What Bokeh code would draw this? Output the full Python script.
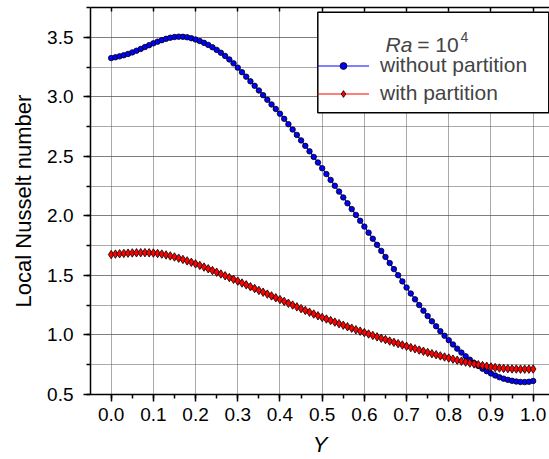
from bokeh.plotting import figure
from bokeh.models import (Range1d, LinearAxis, SingleIntervalTicker, FixedTicker,
                          PrintfTickFormatter, Legend, LegendItem, Label, BoxAnnotation)
from bokeh.embed import file_html
from bokeh.resources import INLINE

# ---------------- data ----------------
Y_POS = [round(i * 0.01, 2) for i in range(101)]

NU_WITHOUT = [
    3.325, 3.332, 3.340, 3.349, 3.360, 3.373, 3.387, 3.402, 3.418, 3.434,
    3.449, 3.463, 3.476, 3.487, 3.496, 3.502, 3.505, 3.504, 3.500, 3.492,
    3.481, 3.468, 3.453, 3.436, 3.416, 3.394, 3.370, 3.343, 3.314, 3.281,
    3.245, 3.207, 3.169, 3.130, 3.092, 3.053, 3.014, 2.975, 2.936, 2.898,
    2.858, 2.815, 2.770, 2.725, 2.680, 2.634, 2.588, 2.542, 2.495, 2.448,
    2.400, 2.351, 2.302, 2.253, 2.204, 2.155, 2.106, 2.057, 2.008, 1.959,
    1.910, 1.859, 1.808, 1.757, 1.706, 1.655, 1.604, 1.553, 1.502, 1.450,
    1.398, 1.348, 1.299, 1.251, 1.204, 1.159, 1.115, 1.073, 1.032, 0.993,
    0.956, 0.920, 0.885, 0.852, 0.821, 0.792, 0.765, 0.740, 0.717, 0.696,
    0.677, 0.660, 0.645, 0.633, 0.623, 0.615, 0.609, 0.605, 0.604, 0.607,
    0.614,
]

NU_WITH = [
    1.675, 1.679, 1.682, 1.685, 1.687, 1.689, 1.690, 1.691, 1.691, 1.690,
    1.688, 1.684, 1.679, 1.672, 1.664, 1.655, 1.645, 1.634, 1.622, 1.610,
    1.597, 1.584, 1.570, 1.556, 1.541, 1.527, 1.512, 1.497, 1.482, 1.467,
    1.452, 1.436, 1.421, 1.405, 1.390, 1.374, 1.359, 1.343, 1.328, 1.312,
    1.297, 1.282, 1.266, 1.251, 1.236, 1.221, 1.206, 1.191, 1.176, 1.161,
    1.147, 1.134, 1.121, 1.108, 1.095, 1.082, 1.069, 1.057, 1.044, 1.032,
    1.020, 1.008, 0.996, 0.984, 0.972, 0.961, 0.949, 0.938, 0.927, 0.916,
    0.905, 0.894, 0.884, 0.873, 0.863, 0.853, 0.843, 0.834, 0.824, 0.815,
    0.806, 0.797, 0.788, 0.780, 0.772, 0.764, 0.757, 0.750, 0.743, 0.737,
    0.731, 0.726, 0.722, 0.719, 0.717, 0.715, 0.714, 0.713, 0.713, 0.713,
    0.714,
]

SERIES_NAMES = ["without partition", "with partition"]
TITLE_PARTS = ["Ra", "= 10", "4"]
X_LABEL = "Y"
Y_LABEL = "Local Nusselt number"
X_TICK_STEP = 0.1
Y_TICK_STEP = 0.5
TOP_TICKS = [round(i * 0.1, 1) for i in range(11)]

FONT = "Liberation Sans"

# ---------------- figure ----------------
p = figure(width=549, height=459, output_backend="svg", toolbar_location=None,
           x_range=Range1d(-0.049, 1.0387), y_range=Range1d(0.5, 3.75),
           min_border_left=90, min_border_right=0, min_border_top=7,
           min_border_bottom=64)
p.outline_line_color = None
p.background_fill_color = "white"
p.border_fill_color = "white"

xt = SingleIntervalTicker(interval=X_TICK_STEP, num_minor_ticks=2)
yt = SingleIntervalTicker(interval=Y_TICK_STEP, num_minor_ticks=2)
p.xaxis.ticker = xt
p.yaxis.ticker = yt
p.xgrid.ticker = xt
p.ygrid.ticker = yt

for g in (p.xgrid[0], p.ygrid[0]):
    g.grid_line_color = "#555555"
    g.grid_line_dash = "1 1"
    g.grid_line_width = 1
p.ygrid[0].minor_grid_line_color = "#555555"
p.ygrid[0].minor_grid_line_dash = "1 1"
p.ygrid[0].minor_grid_line_width = 1

for ax in (p.xaxis[0], p.yaxis[0]):
    ax.axis_line_width = 1.5
    ax.major_tick_line_width = 1.5
    ax.minor_tick_line_width = 1.5
    ax.major_tick_out = 7
    ax.major_tick_in = 0
    ax.minor_tick_out = 4
    ax.minor_tick_in = 0
    ax.major_label_text_font = FONT
    ax.major_label_text_font_size = "19px"
    ax.major_label_text_color = "black"
    ax.axis_label_text_font = FONT
    ax.axis_label_text_font_size = "22px"
    ax.axis_label_text_color = "black"
    ax.formatter = PrintfTickFormatter(format="%.1f")

xa = p.xaxis[0]
xa.axis_label = X_LABEL
xa.axis_label_text_font_style = "italic"
xa.major_label_standoff = 6
xa.axis_label_standoff = 8

ya = p.yaxis[0]
ya.axis_label = Y_LABEL
ya.axis_label_text_font_style = "normal"
ya.major_label_standoff = 10
ya.axis_label_standoff = 8

top = LinearAxis(ticker=FixedTicker(ticks=[], minor_ticks=TOP_TICKS),
                 major_tick_in=0, major_tick_out=0,
                 minor_tick_in=4, minor_tick_out=0,
                 axis_line_width=1.5, minor_tick_line_width=1.5)
p.add_layout(top, "above")

# ---------------- series ----------------
l1 = p.line(Y_POS, NU_WITHOUT, line_color="#0000ff", line_width=1.2)
s1 = p.scatter(Y_POS, NU_WITHOUT, marker="circle", size=5.5,
               fill_color="#0000ff", line_color="black", line_width=0.8)
l2 = p.line(Y_POS, NU_WITH, line_color="#ff0000", line_width=1.2)
s2 = p.scatter(Y_POS, NU_WITH, marker="diamond", size=8.5,
               fill_color="#ff0000", line_color="black", line_width=0.8)

# legend frame (white box, black border)
p.add_layout(BoxAnnotation(left=227.3, right=458.3, bottom=281.7, top=382.3,
                           left_units="screen", right_units="screen",
                           bottom_units="screen", top_units="screen",
                           fill_color="white", fill_alpha=1.0,
                           line_color="black", line_width=1.5, line_alpha=1.0,
                           level="annotation"))

p.add_layout(Label(x=295, y=350, x_units="screen", y_units="screen",
                   text=TITLE_PARTS[0], text_font=FONT, text_font_style="italic",
                   text_font_size="21px", text_baseline="alphabetic",
                   level="overlay"))
p.add_layout(Label(x=326.7, y=350, x_units="screen", y_units="screen",
                   text=TITLE_PARTS[1], text_font=FONT,
                   text_font_size="21px", text_baseline="alphabetic",
                   level="overlay"))
p.add_layout(Label(x=370, y=358, x_units="screen", y_units="screen",
                   text=TITLE_PARTS[2], text_font=FONT,
                   text_font_size="14px", text_baseline="alphabetic",
                   level="overlay"))

legend = Legend(
    items=[LegendItem(label=SERIES_NAMES[0], renderers=[l1, s1]),
           LegendItem(label=SERIES_NAMES[1], renderers=[l2, s2])],
    location=(227, 287), padding=4, spacing=0, margin=0,
    glyph_width=52, glyph_height=17, label_height=28, label_width=160,
    label_standoff=11, label_text_font=FONT, label_text_font_size="21px",
    title=" ", title_text_font_size="21px", title_standoff=13,
    border_line_color=None, background_fill_alpha=0.0)
p.add_layout(legend, "center")

open("out.html", "w").write(file_html(p, INLINE))
